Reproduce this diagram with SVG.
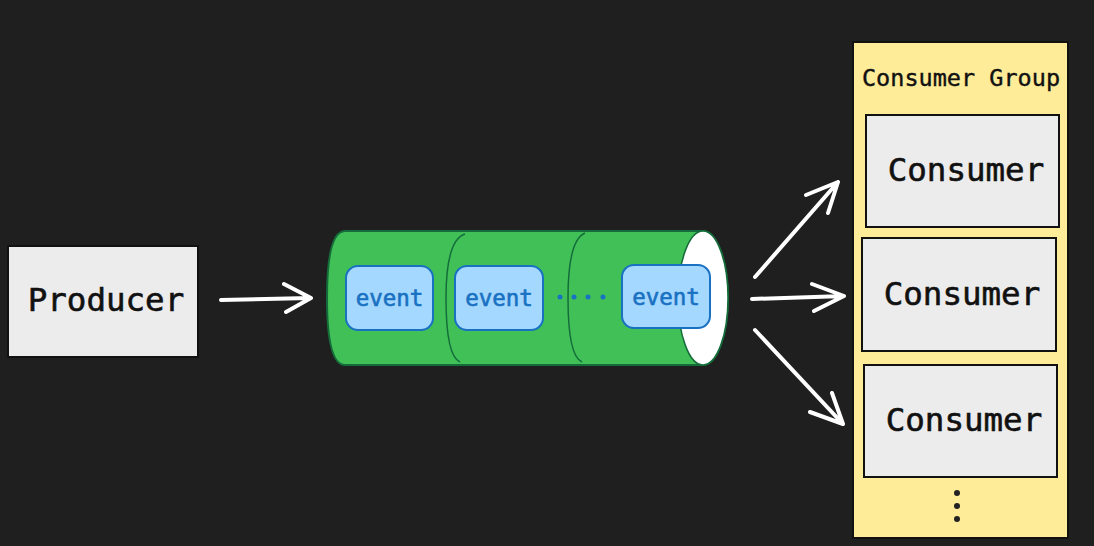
<svg xmlns="http://www.w3.org/2000/svg" width="1094" height="546" viewBox="0 0 1094 546">
<style>
.box{fill:#ececec;stroke:#111;stroke-width:2}
.lbl{font-family:"DejaVu Sans Mono","Liberation Mono",monospace;fill:#111;stroke:#111;stroke-width:0.6;text-anchor:middle;dominant-baseline:central}
.ev{fill:#a5d8ff;stroke:#1971c2;stroke-width:2}
.evt{font-family:"DejaVu Sans Mono","Liberation Mono",monospace;font-size:22.5px;fill:#1971c2;stroke:#1971c2;stroke-width:0.6;text-anchor:middle;dominant-baseline:central}
.arr{fill:none;stroke:#fff;stroke-width:4;stroke-linecap:round;stroke-linejoin:round}
.seg{fill:none;stroke:#146c3a;stroke-width:1.5}
</style>
<rect width="1094" height="546" fill="#1f1f1f"/>
<g id="producer">
<rect class="box" x="8" y="246" width="190" height="111"/>
<text class="lbl" x="106" y="300" font-size="32.5">Producer</text>
</g>
<g id="topic">
<path d="M345 231 L703 231 A25 67 0 0 1 703 365 L345 365 Q327 365 327 298 Q327 231 345 231 Z" fill="#40c057" stroke="#146c3a" stroke-width="2"/>
<ellipse cx="703" cy="298" rx="25" ry="67" fill="#fff" stroke="#146c3a" stroke-width="1.5"/>
<path class="seg" d="M465 234 Q446 240 446 298 Q446 356 460 362"/>
<path class="seg" d="M585 233 Q568 240 568 298 Q568 356 582 362"/>
</g>
<g id="event1">
<rect class="ev" x="346" y="266" width="87" height="64" rx="12"/>
<text class="evt" x="389.5" y="298">event</text>
</g>
<g id="event2">
<rect class="ev" x="455" y="266" width="88" height="64" rx="12"/>
<text class="evt" x="499" y="298">event</text>
</g>
<g id="dots">
<circle cx="560" cy="297" r="2.5" fill="#1971c2"/>
<circle cx="574" cy="297" r="2.5" fill="#1971c2"/>
<circle cx="588" cy="297" r="2.5" fill="#1971c2"/>
<circle cx="603" cy="297" r="2.5" fill="#1971c2"/>
</g>
<g id="event3">
<rect class="ev" x="622" y="265" width="88" height="63" rx="12"/>
<text class="evt" x="666" y="297">event</text>
</g>
<g id="consumer-group">
<rect x="853" y="42" width="215" height="496" fill="#ffec99" stroke="#111" stroke-width="2"/>
<text class="lbl" x="961" y="78" font-size="23.5" style="stroke-width:0.4">Consumer Group</text>
<circle cx="957" cy="493" r="3" fill="#222"/>
<circle cx="957" cy="506" r="3" fill="#222"/>
<circle cx="957" cy="519" r="3" fill="#222"/>
</g>
<g id="consumer1">
<rect class="box" x="866" y="115" width="193" height="112"/>
<text class="lbl" x="966" y="170" font-size="32.5">Consumer</text>
</g>
<g id="consumer2">
<rect class="box" x="862" y="238" width="194" height="113"/>
<text class="lbl" x="962" y="294" font-size="32.5">Consumer</text>
</g>
<g id="consumer3">
<rect class="box" x="864" y="365" width="193" height="112"/>
<text class="lbl" x="964" y="420" font-size="32.5">Consumer</text>
</g>
<g id="connectors">
<path class="arr" d="M221 300 L310 298 M284 284 L311 298 L286 312"/>
<path class="arr" d="M755 277 L838 182 M806 195 L838 182 L828 213"/>
<path class="arr" d="M752 299 L844 296 M812 284 L844 296 L814 311"/>
<path class="arr" d="M755 330 L843 424 M832 393 L843 424 L810 412"/>
</g>
</svg>
